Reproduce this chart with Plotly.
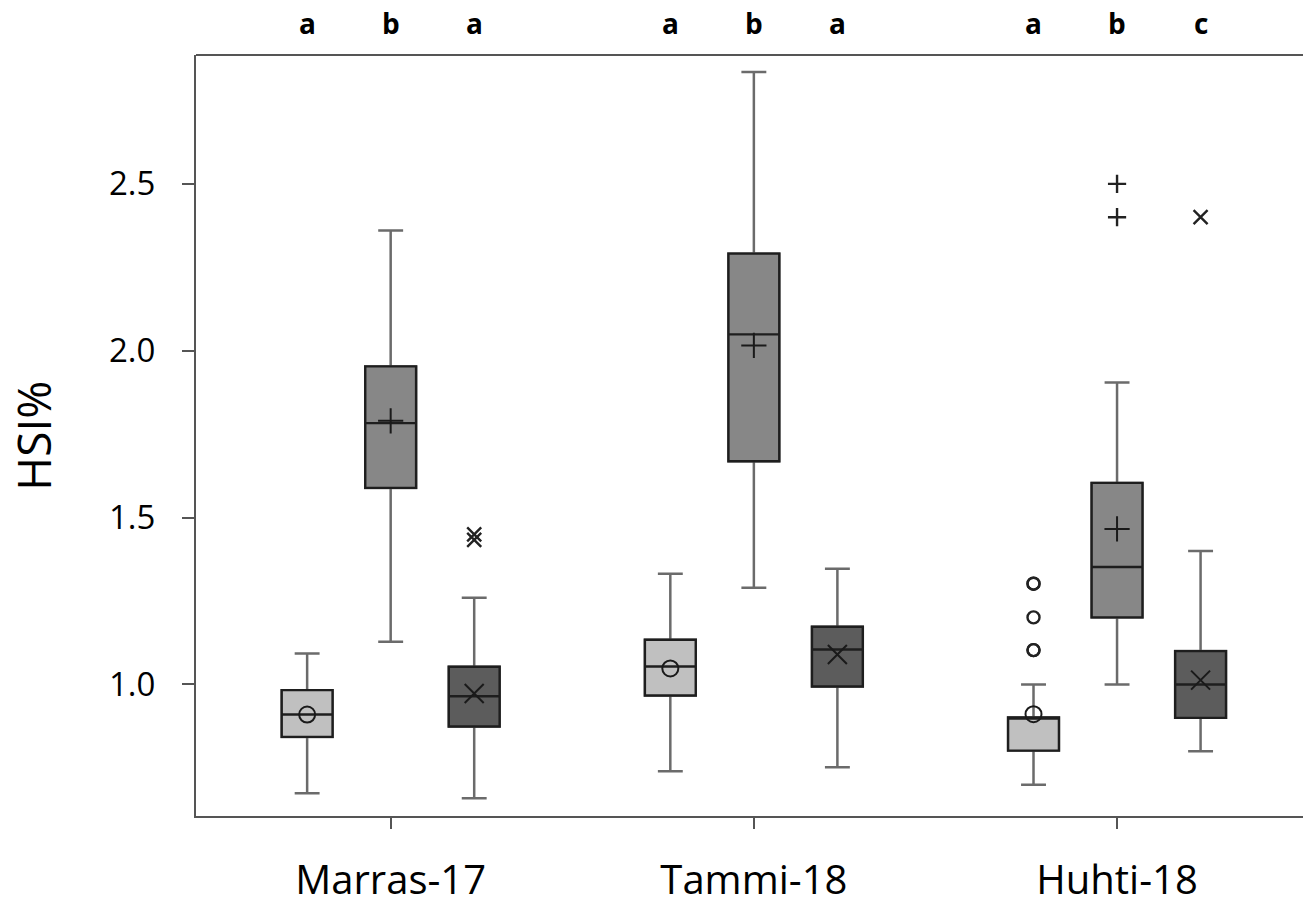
import plotly.graph_objects as go

groups = ["Marras-17", "Tammi-18", "Huhti-18"]
series = ["light", "medium", "dark"]
offsets = [-0.23, 0.0, 0.23]
fills = ["#c0c0c0", "#878787", "#5c5c5c"]

# box statistics per series, one value per group
lower = {"light": [0.674, 0.740, 0.700], "medium": [1.128, 1.290, 1.000], "dark": [0.659, 0.752, 0.800]}
q1 = {"light": [0.843, 0.967, 0.802], "medium": [1.589, 1.669, 1.201], "dark": [0.874, 0.994, 0.900]}
median = {"light": [0.910, 1.054, 0.901], "medium": [1.783, 2.049, 1.352], "dark": [0.965, 1.105, 1.000]}
q3 = {"light": [0.983, 1.134, 0.901], "medium": [1.953, 2.291, 1.604], "dark": [1.053, 1.173, 1.100]}
upper = {"light": [1.093, 1.332, 1.000], "medium": [2.360, 2.835, 1.905], "dark": [1.260, 1.347, 1.400]}
mean = {"light": [0.910, 1.048, 0.911], "medium": [1.790, 2.016, 1.466], "dark": [0.973, 1.090, 1.013]}

# outliers: (group index, value)
outliers = {
    "light": [(2, 1.302), (2, 1.302), (2, 1.201), (2, 1.103), (2, 1.103)],
    "medium": [(2, 2.50), (2, 2.40)],
    "dark": [(0, 1.450), (0, 1.433), (2, 2.40)],
}

letters = [["a", "b", "a"], ["a", "b", "a"], ["a", "b", "c"]]

mean_symbols = {"light": "circle-open", "medium": "cross-thin-open", "dark": "x-thin-open"}
mean_sizes = {"light": 16, "medium": 18, "dark": 19}
out_symbols = {"light": "circle-open", "medium": "cross-thin-open", "dark": "x-thin-open"}
out_sizes = {"light": 12, "medium": 13, "dark": 14}

fig = go.Figure()

for s, off, fc in zip(series, offsets, fills):
    xs = [i + off for i in range(len(groups))]
    # whiskers (gray)
    fig.add_trace(go.Box(
        x=xs, q1=q1[s], median=median[s], q3=q3[s],
        lowerfence=lower[s], upperfence=upper[s],
        width=0.14, whiskerwidth=0.49, fillcolor=fc,
        line=dict(color="#6b6b6b", width=2.5), boxpoints=False,
        showlegend=False, hoverinfo="skip",
    ))
    # box outline (dark)
    fig.add_trace(go.Box(
        x=xs, q1=q1[s], median=median[s], q3=q3[s],
        lowerfence=q1[s], upperfence=q3[s],
        width=0.14, whiskerwidth=0.49, fillcolor=fc,
        line=dict(color="#1e1e1e", width=2.4), boxpoints=False,
        showlegend=False, hoverinfo="skip",
    ))

for s, off in zip(series, offsets):
    xs = [i + off for i in range(len(groups))]
    fig.add_trace(go.Scatter(
        x=xs, y=mean[s], mode="markers",
        marker=dict(symbol=mean_symbols[s], size=mean_sizes[s], color="#1a1a1a",
                    line=dict(width=2, color="#1a1a1a")),
        showlegend=False, hoverinfo="skip",
    ))
    ox = [g + off for g, v in outliers[s]]
    oy = [v for g, v in outliers[s]]
    fig.add_trace(go.Scatter(
        x=ox, y=oy, mode="markers",
        marker=dict(symbol=out_symbols[s], size=out_sizes[s], color="#222222",
                    line=dict(width=2.4, color="#222222")),
        showlegend=False, hoverinfo="skip",
    ))

annotations = []
for gi, labs in enumerate(letters):
    for off, lab in zip(offsets, labs):
        annotations.append(dict(
            x=gi + off, y=1.042, xref="x", yref="paper", text=lab, showarrow=False,
            font=dict(family="Open Sans", size=28, color="#000000", weight="bold"),
            xanchor="center", yanchor="middle", borderpad=0,
        ))
annotations.append(dict(
    x=-0.148, y=0.5, xref="paper", yref="paper", text="HSI%", showarrow=False,
    textangle=-90, font=dict(family="Open Sans", size=46, color="#000000"),
    xanchor="center", yanchor="middle", borderpad=0,
))

fig.update_layout(
    width=1303, height=906,
    margin=dict(l=196, r=0, t=55, b=84),
    paper_bgcolor="white", plot_bgcolor="white",
    annotations=annotations,
    shapes=[dict(type="line", xref="paper", yref="paper", x0=0, x1=1, y0=1, y1=1,
                 line=dict(color="#555555", width=2))],
    xaxis=dict(
        range=[-0.536, 2.512], tickvals=list(range(len(groups))), ticktext=groups,
        showline=True, linecolor="#555555", linewidth=2, showgrid=False, zeroline=False,
        ticks="outside", ticklen=11, tickwidth=2, tickcolor="#555555",
        tickfont=dict(family="Open Sans", size=40, color="#000000"),
        ticklabelstandoff=17,
    ),
    yaxis=dict(
        range=[0.606, 2.886], tickvals=[1.0, 1.5, 2.0, 2.5], ticktext=["1.0", "1.5", "2.0", "2.5"],
        showline=True, linecolor="#555555", linewidth=2, showgrid=False, zeroline=False,
        ticks="outside", ticklen=12, tickwidth=2, tickcolor="#555555",
        tickfont=dict(family="Open Sans", size=33, color="#000000"),
        ticklabelstandoff=20,
    ),
)

fig.write_html(
    "out.html",
    config={"displayModeBar": False},
    post_script="document.body.style.margin='0';document.body.style.overflow='hidden';",
)
